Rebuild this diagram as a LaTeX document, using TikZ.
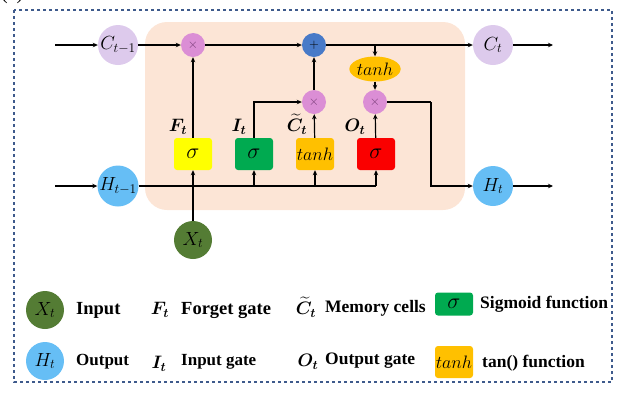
\RequirePackage{fix-cm}
\documentclass[tikz,border=0pt]{standalone}
\usepackage{amsmath,bm}
\usepackage{fontspec}
\setmainfont{Liberation Serif}
\usepackage{tikz}
\usetikzlibrary{arrows.meta,positioning,calc,shapes.geometric}
\definecolor{peach}{RGB}{252,229,214}
\definecolor{lavender}{RGB}{221,202,236}
\definecolor{opcol}{RGB}{219,142,213}
\definecolor{addblue}{RGB}{72,122,200}
\definecolor{skyblue}{RGB}{102,190,245}
\definecolor{xgreen}{RGB}{84,124,52}
\definecolor{sigyellow}{RGB}{255,255,0}
\definecolor{siggreen}{RGB}{0,170,80}
\definecolor{tanhorange}{RGB}{255,192,0}
\definecolor{sigred}{RGB}{250,0,0}
\definecolor{framecol}{RGB}{62,90,140}
\definecolor{timescol}{RGB}{120,60,120}

\tikzset{
  arr/.style={-{Stealth[length=5pt,width=4.5pt]},line width=1.2pt},
  link/.style={line width=1.2pt},
  statenode/.style={circle,minimum size=40pt,inner sep=0pt,font=\fontsize{19}{19}\selectfont},
  opnode/.style={circle,minimum size=24pt,inner sep=0pt,font=\fontsize{13}{13}\selectfont},
  gatebox/.style={rectangle,rounded corners=3pt,minimum width=38pt,minimum height=32pt,inner sep=0pt,font=\fontsize{22}{22}\selectfont},
  tanhtext/.style={font=\fontsize{18}{18}\selectfont},
  gatelab/.style={inner sep=0pt,font=\fontsize{18}{18}\selectfont},
  legtext/.style={anchor=west,inner sep=0pt,font=\fontsize{17.5}{17.5}\selectfont\bfseries},
}

\begin{document}
\begin{tikzpicture}[x=1pt,y=-1pt]
  \useasboundingbox (0,0) rectangle (622,392);
  % cut-off panel label
  \node[anchor=base west,inner sep=0pt,font=\fontsize{20}{20}\selectfont] (panel) at (1,-1) {(c)};
  % frame and cell
  \draw[framecol,line width=1.2pt,dashed] (14,10) rectangle (612,382);
  \fill[peach,rounded corners=22pt] (145,22) rectangle (465,210);

  % states
  \node[statenode,fill=lavender] (cprev) at (118,45) {$C_{t-1}$};
  \node[statenode,fill=lavender] (ct) at (493,45) {$C_t$};
  \node[statenode,fill=skyblue] (hprev) at (118,186) {$H_{t-1}$};
  \node[statenode,fill=skyblue] (ht) at (493,186) {$H_t$};
  \node[statenode,fill=xgreen,minimum size=38pt] (xt) at (193,240) {$X_t$};

  % operations
  \node[opnode,fill=opcol,text=timescol] (m1) at (193,45) {$\times$};
  \node[opnode,fill=addblue] (add) at (314,45) {$+$};
  \node[opnode,fill=opcol,text=timescol] (m2) at (314,102) {$\times$};
  \node[opnode,fill=opcol,text=timescol] (m3) at (375,102) {$\times$};
  \node[ellipse,fill=tanhorange,minimum width=50pt,minimum height=25pt,inner sep=0pt,tanhtext] (tnh) at (375,69) {$tanh$};

  % gates
  \node[gatebox,fill=sigyellow] (fg) at (193,154) {$\sigma$};
  \node[gatebox,fill=siggreen] (ig) at (254,154) {$\sigma$};
  \node[gatebox,fill=tanhorange,tanhtext] (cg) at (315,154) {$tanh$};
  \node[gatebox,fill=sigred] (og) at (376,154) {$\sigma$};

  \node[gatelab] (flab) at (178,127) {$\bm{F_t}$};
  \node[gatelab] (ilab) at (239,127) {$\bm{I_t}$};
  \node[gatelab] (clab) at (297,124) {$\bm{\widetilde{C}_t}$};
  \node[gatelab] (olab) at (355,127) {$\bm{O_t}$};

  % cell state line
  \coordinate (cin) at (55,45);
  \coordinate (cout) at (553,45);
  \coordinate (tap) at (375,45);
  \draw[arr] (cin) -- (cprev);
  \draw[arr] (cprev) -- (m1);
  \draw[arr] (m1) -- (add);
  \draw[arr] (add) -- (ct);
  \draw[arr] (ct) -- (cout);
  \draw[arr] (tap) -- (tnh);
  \draw[arr] (tnh) -- (m3);

  % gate outputs
  \draw[arr] (fg) -- (m1);
  \draw[arr] (ig.north) |- (m2);
  \draw[arr] (cg) -- (m2);
  \draw[arr] (m2) -- (add);
  \draw[arr] (og) -- (m3);
  \coordinate (turn) at (431,102);
  \draw[link] (m3) -- (turn);
  \draw[arr] (turn) |- (ht);

  % hidden state line
  \coordinate (hin) at (55,186);
  \coordinate (hout) at (553,186);
  \draw[arr] (hin) -- (hprev);
  \draw[link] (hprev) -- (og |- hprev);
  \draw[arr] (ig |- hprev) -- (ig);
  \draw[arr] (cg |- hprev) -- (cg);
  \draw[arr] (og |- hprev) -- (og);
  \draw[arr] (xt) -- (fg);
  \draw[arr] (ht) -- (hout);

  % legend
  \node[statenode,fill=xgreen,minimum size=38pt] (lx) at (45,310) {$X_t$};
  \node[legtext,font=\fontsize{18.5}{18.5}\selectfont\bfseries] (lxt) at (76,310) {Input};
  \node[gatelab] (lf) at (160,310) {$\bm{F_t}$};
  \node[legtext,font=\fontsize{18.5}{18.5}\selectfont\bfseries] (lft) at (181,310) {Forget gate};
  \node[gatelab] (lc) at (306,307) {$\bm{\widetilde{C}_t}$};
  \node[legtext] (lct) at (325,308) {Memory cells};
  \node[gatebox,fill=siggreen,minimum height=23pt] (ls) at (454,304) {$\sigma$};
  \node[legtext] (lst) at (480,304) {Sigmoid function};

  \node[statenode,fill=skyblue,minimum size=38pt] (lh) at (45,361) {$H_t$};
  \node[legtext,font=\fontsize{17}{17}\selectfont\bfseries] (lht) at (76,362) {Output};
  \node[gatelab] (li) at (159,364) {$\bm{I_t}$};
  \node[legtext,font=\fontsize{17}{17}\selectfont\bfseries] (lit) at (181,362) {Input gate};
  \node[gatelab] (lo) at (308,362) {$\bm{O_t}$};
  \node[legtext] (lot) at (325,361) {Output gate};
  \node[gatebox,fill=tanhorange,tanhtext] (ltn) at (454,362) {$tanh$};
  \node[legtext] (ltt) at (482,363) {tan() function};
\end{tikzpicture}
\end{document}
